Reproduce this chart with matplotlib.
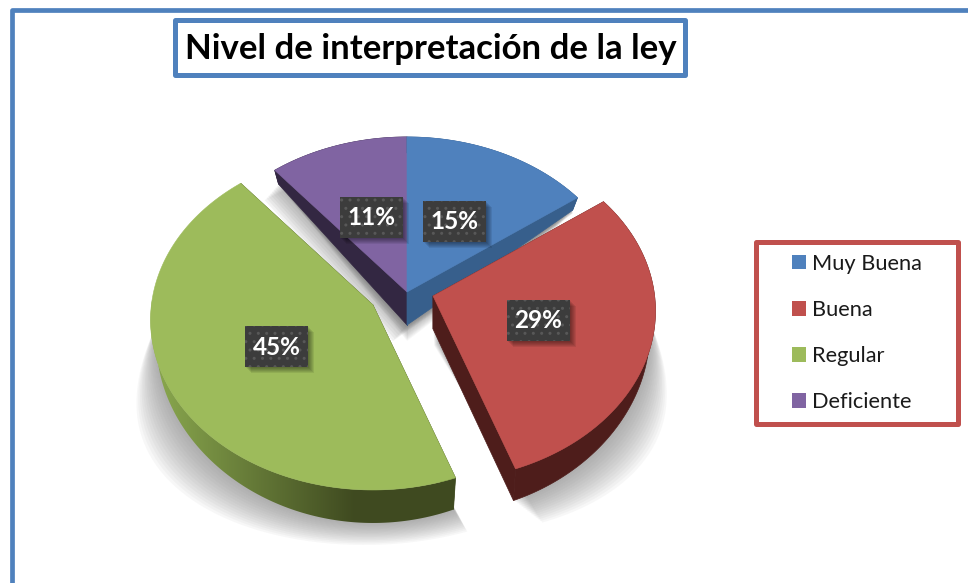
import numpy as np
import matplotlib
matplotlib.use('Agg')
import matplotlib.pyplot as plt
from matplotlib.patches import Patch, Rectangle, Polygon

# Values
categories = ['Muy Buena', 'Buena', 'Regular', 'Deficiente']
values = [15.0, 29.45, 44.55, 11.0]
title = 'Nivel de interpretación de la ley'

# Styles
top_colors = ['#4f81bd', '#c0504d', '#9dbb5b', '#8064a2']
side_colors = ['#375f8c', '#4e1d1b', '#3f4a20', '#332742']
apexes = [(407, 292), (433, 296), (373, 305), (407, 292)]
draw_order = [3, 0, 1, 2]
FONT = 'Lato'

# Perspective of the pie plane
A, B, K = 221.6, 168.7, 0.088

fig = plt.figure(figsize=(9.68, 5.83), dpi=100)
ax = fig.add_axes([0, 0, 1, 1])


def project(apex, theta, r=1.0):
    # theta is clockwise from twelve o'clock
    u, v = r * np.sin(theta), r * np.cos(theta)
    s = 1 + K * v
    return apex[0] + A * u / s, apex[1] - B * v / s


def lower(x, y, theta, r=1.0):
    # bottom rim of the slab, shallower and narrower towards the sides
    u, v = r * np.sin(theta), r * np.cos(theta)
    d = (33 - 17 * np.clip(v / 0.58, 0, 1)) * (1 - 0.33 * u ** 2)
    return x - 6 * u, y + d


# Slice angles come from the values
edges = np.deg2rad(np.cumsum([0] + values) / sum(values) * 360)

# Soft shadow first, it only spreads below the middle of the pie
for i in draw_order:
    th = np.linspace(edges[i], edges[i + 1], 80)
    ax0, ay0 = apexes[i]
    x, y = project(apexes[i], th)
    bx, by = lower(x, y, th)
    px = np.r_[ax0, bx]
    py = np.r_[ay0 + 33, by]
    for step in range(1, 15):
        f = step / 14
        sx = 403 + (px - 403) * (1 + f * 0.0013 * np.clip(py - 300, 0, None))
        sy = py + f * 22 * np.clip((py - 180) / 200, 0, 1)
        ax.fill(sx, sy, color='#707070', alpha=0.05, lw=0, zorder=1)
    # the two back slices also throw a denser shadow into the gap
    if i in (0, 3):
        for step in range(1, 9):
            f = step / 8
            ax.fill(px - f * 14, py + f * 16, color='#707070', alpha=0.08, lw=0, zorder=1)

# Then the extruded sides and the top of every slice
for n, i in enumerate(draw_order):
    th = np.linspace(edges[i], edges[i + 1], 160)
    x, y = project(apexes[i], th)
    bx, by = lower(x, y, th)
    base = 2 + n * 2
    ax0, ay0 = apexes[i]
    # flat cut faces
    for k in (0, -1):
        ax.fill([ax0, x[k], bx[k], ax0], [ay0, y[k], by[k], ay0 + 33],
                color=side_colors[i], lw=0.5, zorder=base)
    # outer wall
    wall = np.c_[np.r_[x, bx[::-1]], np.r_[y, by[::-1]]]
    if i == 2:
        # the green wall fades towards its left end
        light = np.array(matplotlib.colors.to_rgb('#86a34c'))
        dark = np.array(matplotlib.colors.to_rgb(side_colors[i]))
        t = np.clip((np.linspace(140, 470, 330) - 165) / 190, 0, 1)[None, :, None]
        img = ax.imshow(light + (dark - light) * t, extent=(140, 470, 540, 300),
                        aspect='auto', zorder=base)
        img.set_clip_path(Polygon(wall, transform=ax.transData))
    else:
        ax.fill(wall[:, 0], wall[:, 1], color=side_colors[i], lw=0.5, zorder=base)
    ax.fill(np.r_[ax0, x], np.r_[ay0, y], color=top_colors[i], lw=0.4, zorder=base + 1)

# Percent labels
for i in range(4):
    mid = (edges[i] + edges[i + 1]) / 2
    cx, cy = project(apexes[i], mid, 0.49)
    for s in range(1, 7):
        ax.add_patch(Rectangle((cx - 31.5 + s, cy - 20.5 + s), 63, 41, color='black',
                               alpha=0.08, lw=0, zorder=20))
    ax.add_patch(Rectangle((cx - 31.5, cy - 20.5), 63, 41, facecolor='#3c3c3c',
                           edgecolor='#585858', hatch='..', lw=0, zorder=21))
    ax.text(cx, cy + 0.5, f'{values[i]:.0f}%', color='white', fontsize=17.5, fontweight='bold',
            family=FONT, ha='center', va='center', zorder=22)

# Outer frame, open on the right and at the bottom
ax.plot([12, 12, 968], [583, 10, 10], color='#4f81bd', lw=3.4, solid_joinstyle='round', zorder=5)

# Title in its own box
ax.text(431, 49, title, fontsize=25, fontweight='bold', family=FONT, color='black',
        ha='center', va='center', zorder=6)
ax.add_patch(Rectangle((175, 19.5), 510, 55, fill=False, edgecolor='#4f81bd', lw=3.6,
                       joinstyle='round', zorder=6))

# Legend with its frame
ax.add_patch(Rectangle((755.5, 242), 202, 182, facecolor='white', edgecolor='#c0504d', lw=3.6,
                       joinstyle='round', zorder=29))
handles = [Patch(facecolor=c, edgecolor='none') for c in top_colors]
leg = ax.legend(handles, categories, loc='center left', bbox_to_anchor=(792 / 968, 1 - 333 / 583),
                prop={'family': FONT, 'size': 15.7}, frameon=False,
                handlelength=0.65, handleheight=0.65, handletextpad=0.28,
                labelspacing=1.2, borderpad=0, borderaxespad=0)
leg.set_zorder(30)
for t in leg.get_texts():
    t.set_color('#1a1a1a')

ax.set_xlim(0, 968)
ax.set_ylim(583, 0)
ax.axis('off')

fig.savefig('out.png', dpi=100)
